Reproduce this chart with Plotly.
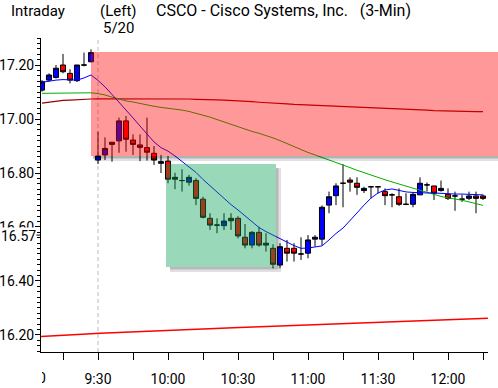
import plotly.graph_objects as go

# ---------------- data ----------------
# bar start times in minutes after midnight (3-minute bars, 9:06 .. 12:15)
times = [546 + 3 * i for i in range(64)]

opens = [17.107, 17.144, 17.154, 17.200, 17.169, 17.142, 17.200, 17.212,
         16.848, 16.867, 16.914, 16.919, 16.993, 16.922, 16.904, 16.894,
         16.873, 16.836, 16.844, 16.784, 16.772, 16.766, 16.772, 16.703,
         16.632, 16.607, 16.605, 16.632, 16.632, 16.562, 16.533, 16.580,
         16.540, 16.521, 16.459, 16.521, 16.521, 16.500, 16.503, 16.555,
         16.555, 16.681, 16.716, 16.762, 16.774, 16.762, 16.735, 16.749,
         16.749, 16.731, 16.719, 16.712, 16.684, 16.684, 16.719, 16.756,
         16.752, 16.735, 16.721, 16.715, 16.703, 16.706, 16.715, 16.715]
highs = [17.144, 17.169, 17.200, 17.241, 17.184, 17.200, 17.246, 17.258,
         16.953, 16.932, 16.915, 17.005, 17.011, 16.943, 16.943, 17.005,
         16.900, 16.867, 16.863, 16.801, 16.814, 16.793, 16.781, 16.712,
         16.651, 16.632, 16.651, 16.651, 16.640, 16.611, 16.585, 16.601,
         16.577, 16.536, 16.540, 16.552, 16.540, 16.562, 16.570, 16.570,
         16.680, 16.731, 16.762, 16.833, 16.784, 16.784, 16.749, 16.749,
         16.749, 16.743, 16.725, 16.743, 16.725, 16.728, 16.784, 16.765,
         16.752, 16.772, 16.743, 16.731, 16.720, 16.731, 16.731, 16.720]
lows = [17.101, 17.138, 17.150, 17.169, 17.132, 17.137, 17.195, 17.210,
        16.833, 16.848, 16.842, 16.875, 16.879, 16.867, 16.844, 16.846,
        16.830, 16.800, 16.762, 16.740, 16.731, 16.753, 16.681, 16.632,
        16.589, 16.577, 16.589, 16.589, 16.558, 16.521, 16.521, 16.527,
        16.509, 16.447, 16.447, 16.472, 16.472, 16.478, 16.484, 16.527,
        16.533, 16.651, 16.681, 16.673, 16.731, 16.719, 16.726, 16.706,
        16.724, 16.681, 16.673, 16.678, 16.681, 16.673, 16.719, 16.731,
        16.700, 16.731, 16.700, 16.660, 16.693, 16.700, 16.651, 16.700]
closes = [17.138, 17.163, 17.188, 17.175, 17.144, 17.200, 17.200, 17.246,
          16.863, 16.891, 16.906, 16.993, 16.925, 16.906, 16.895, 16.877,
          16.848, 16.842, 16.777, 16.777, 16.772, 16.784, 16.706, 16.636,
          16.607, 16.607, 16.622, 16.623, 16.567, 16.533, 16.580, 16.533,
          16.533, 16.462, 16.527, 16.503, 16.503, 16.500, 16.552, 16.562,
          16.673, 16.712, 16.752, 16.762, 16.766, 16.747, 16.743, 16.749,
          16.749, 16.716, 16.719, 16.684, 16.684, 16.721, 16.762, 16.756,
          16.725, 16.743, 16.706, 16.715, 16.703, 16.715, 16.706, 16.706]

ma_fast = [17.136, 17.141, 17.144, 17.146, 17.146, 17.144, 17.152, 17.163,
           17.143, 17.119, 17.091, 17.063, 17.033, 17.004, 16.974, 16.944,
           16.915, 16.894, 16.881, 16.863, 16.843, 16.822, 16.802, 16.776,
           16.752, 16.728, 16.704, 16.683, 16.663, 16.641, 16.620, 16.598,
           16.583, 16.569, 16.556, 16.544, 16.531, 16.521, 16.522, 16.526,
           16.530, 16.552, 16.576, 16.596, 16.626, 16.652, 16.681, 16.707,
           16.726, 16.737, 16.741, 16.735, 16.730, 16.728, 16.726, 16.726,
           16.726, 16.724, 16.722, 16.722, 16.722, 16.722, 16.720, 16.719]
ma_mid = [17.095, 17.095, 17.095, 17.095, 17.097, 17.097, 17.097, 17.097,
          17.094, 17.089, 17.081, 17.074, 17.067, 17.063, 17.057, 17.052,
          17.047, 17.043, 17.040, 17.037, 17.033, 17.028, 17.021, 17.015,
          17.007, 16.998, 16.989, 16.979, 16.970, 16.961, 16.954, 16.947,
          16.939, 16.930, 16.920, 16.909, 16.896, 16.885, 16.876, 16.867,
          16.858, 16.849, 16.839, 16.830, 16.820, 16.810, 16.801, 16.791,
          16.783, 16.775, 16.767, 16.759, 16.752, 16.744, 16.737, 16.728,
          16.719, 16.713, 16.708, 16.704, 16.699, 16.693, 16.686, 16.680]
ma_slow = [17.059, 17.063, 17.066, 17.069, 17.070, 17.072, 17.073, 17.074,
           17.075, 17.075, 17.075, 17.075, 17.075, 17.075, 17.075, 17.075,
           17.075, 17.076, 17.076, 17.076, 17.075, 17.074, 17.073, 17.073,
           17.072, 17.071, 17.070, 17.069, 17.067, 17.066, 17.064, 17.062,
           17.061, 17.059, 17.057, 17.056, 17.054, 17.053, 17.051, 17.050,
           17.049, 17.048, 17.048, 17.047, 17.046, 17.045, 17.044, 17.043,
           17.041, 17.040, 17.038, 17.037, 17.036, 17.035, 17.034, 17.033,
           17.031, 17.030, 17.030, 17.029, 17.028, 17.028, 17.027, 17.027]

support_t = [545.6, 570.9, 627.9, 670.7, 713.6, 737.1]
support_v = [16.194, 16.206, 16.227, 16.240, 16.253, 16.262]

y_tick_vals = [16.20, 16.40, 16.60, 16.80, 17.00, 17.20]
y_tick_text = ["16.20", "16.40", "16.60", "16.80", "17.00", "17.20"]
x_tick_vals = [555, 570, 585, 600, 615, 630, 645, 660, 675, 690, 705, 720, 735]
x_tick_text = ["", "9:30", "", "10:00", "", "10:30", "", "11:00", "", "11:30", "", "12:00", ""]

last_price = 16.57
session_open = 570
sell_zone = (567, 16.863, 17.248)          # start time, low, high (extends to right edge)
buy_zone = (599.14, 646.29, 16.452, 16.833)  # t0, t1, low, high

# ---------------- layout constants ----------------
W, H = 498, 388
ML, MR, MT, MB = 41, 10, 38, 36
PW, PH = W - ML - MR, H - MT - MB
XMIN, XMAX = 545.571, 737.143
YMIN, YMAX = 16.137, 17.30
px_t = (XMAX - XMIN) / PW     # minutes per pixel
px_p = (YMAX - YMIN) / PH     # price per pixel


def xpaper(t):
    return (t - XMIN) / (XMAX - XMIN)


FONT = "Roboto"
fig = go.Figure()

fig.add_trace(go.Scatter(x=support_t, y=support_v, mode="lines",
                         line=dict(color="#FF0000", width=1.5), hoverinfo="skip"))
fig.add_trace(go.Scatter(x=times, y=ma_slow, mode="lines",
                         line=dict(color="#990000", width=1.2), hoverinfo="skip"))
fig.add_trace(go.Scatter(x=times, y=ma_mid, mode="lines",
                         line=dict(color="#00B000", width=1), hoverinfo="skip"))
fig.add_trace(go.Scatter(x=times, y=ma_fast, mode="lines",
                         line=dict(color="#0000FF", width=1), hoverinfo="skip"))
fig.add_trace(go.Candlestick(
    x=times, open=opens, high=highs, low=lows, close=closes,
    increasing=dict(fillcolor="#0000FF", line=dict(color="black", width=1)),
    decreasing=dict(fillcolor="#FF0000", line=dict(color="black", width=1)),
    whiskerwidth=0, hoverinfo="skip"))

shapes = []
# session-open dashed line
shapes.append(dict(type="line", xref="x", yref="paper", x0=session_open, x1=session_open,
                   y0=0, y1=1, line=dict(color="#BBBBBB", width=1, dash="4px,3px"), layer="below"))

# sell zone (pink) with bottom shadow
sx0 = xpaper(sell_zone[0])
sx1 = 1 + MR / PW
shapes.append(dict(type="rect", xref="paper", yref="y", x0=sx0 + 2 / PW, x1=sx1,
                   y0=sell_zone[1] - 2.5 * px_p, y1=sell_zone[1],
                   fillcolor="rgba(0,0,0,0.30)", line=dict(width=0), layer="above"))
shapes.append(dict(type="rect", xref="paper", yref="y", x0=sx0 + 3 / PW, x1=sx1,
                   y0=sell_zone[1] - 5 * px_p, y1=sell_zone[1] - 2.5 * px_p,
                   fillcolor="rgba(0,0,0,0.12)", line=dict(width=0), layer="above"))
shapes.append(dict(type="rect", xref="paper", yref="y", x0=sx0, x1=sx1,
                   y0=sell_zone[1], y1=sell_zone[2],
                   fillcolor="rgba(255,0,0,0.4)", line=dict(width=0), layer="above"))

# buy zone (green) with right/bottom shadow
bt0, bt1, bl, bh = buy_zone
for k, a in [(0, 0.28), (1, 0.12)]:
    shapes.append(dict(type="rect", xref="x", yref="y",
                       x0=bt1 + 2.5 * k * px_t, x1=bt1 + 2.5 * (k + 1) * px_t,
                       y0=bl - 2.5 * (k + 1) * px_p, y1=bh - 4 * px_p,
                       fillcolor=f"rgba(0,0,0,{a})", line=dict(width=0), layer="above"))
    shapes.append(dict(type="rect", xref="x", yref="y",
                       x0=bt0 + 4 * px_t, x1=bt1 + 2.5 * k * px_t,
                       y0=bl - 2.5 * (k + 1) * px_p, y1=bl - 2.5 * k * px_p,
                       fillcolor=f"rgba(0,0,0,{a})", line=dict(width=0), layer="above"))
shapes.append(dict(type="rect", xref="x", yref="y", x0=bt0, x1=bt1, y0=bl, y1=bh,
                   fillcolor="rgba(0,160,80,0.4)", line=dict(width=0), layer="above"))

# last price tick
shapes.append(dict(type="line", xref="paper", yref="y", x0=-6 / PW, x1=0,
                   y0=last_price, y1=last_price, line=dict(color="black", width=1)))

fnt = dict(family=FONT, size=15, color="black")
hfnt = dict(family=FONT, size=16, color="black")
tfnt = dict(family=FONT, size=14, color="black")


def ann(text, px, py, font=fnt, xanchor="left", **kw):
    return dict(text=text, xref="paper", yref="paper", x=(px - ML) / PW,
                y=(H - MB - py) / PH, xanchor=xanchor, yanchor="middle",
                showarrow=False, font=font, borderpad=0, **kw)


annotations = [
    ann("Intraday", 10, 11),
    ann("(Left)", 99, 11),
    ann("5/20", 102, 28),
    ann("CSCO\u00a0-\u00a0Cisco Systems, Inc.\u00a0\u00a0\u00a0(3-Min)", 155, 11, font=hfnt),
    dict(text=f"{last_price:.2f}", xref="paper", yref="y", x=(37 - ML) / PW, y=last_price,
         xanchor="right", yanchor="middle", showarrow=False, font=tfnt,
         bgcolor="white", borderpad=0, height=15),
    dict(text="9:00", xref="paper", yref="paper", x=0, y=(H - MB - 378) / PH,
         xanchor="left", yanchor="middle", showarrow=False, font=tfnt,
         width=4, align="right", borderpad=0),
]

fig.update_layout(
    width=W, height=H, margin=dict(l=ML, r=MR, t=MT, b=MB, autoexpand=False),
    paper_bgcolor="white", plot_bgcolor="white", showlegend=False,
    boxgap=0.28, boxgroupgap=0,
    shapes=shapes, annotations=annotations,
    xaxis=dict(range=[XMIN, XMAX], tickmode="array", tickvals=x_tick_vals,
               ticktext=x_tick_text, ticks="outside", ticklen=7, tickcolor="black",
               showline=True, linecolor="black", linewidth=1, showgrid=False,
               zeroline=False, tickfont=tfnt, rangeslider=dict(visible=False),
               ticklabelstandoff=7, automargin=False),
    yaxis=dict(range=[YMIN, YMAX], tickmode="array", tickvals=y_tick_vals,
               ticktext=y_tick_text, ticks="outside", ticklen=5, tickcolor="black",
               showline=True, linecolor="black", linewidth=1, showgrid=False,
               zeroline=False, tickfont=tfnt, ticklabelstandoff=-2, automargin=False,
               minor=dict(ticks="outside", ticklen=3, tick0=16.2, dtick=0.02,
                          tickcolor="black", showgrid=False)),
)

fig.write_html("out.html", config={"displayModeBar": False},
               post_script="document.body.style.margin='0';")
